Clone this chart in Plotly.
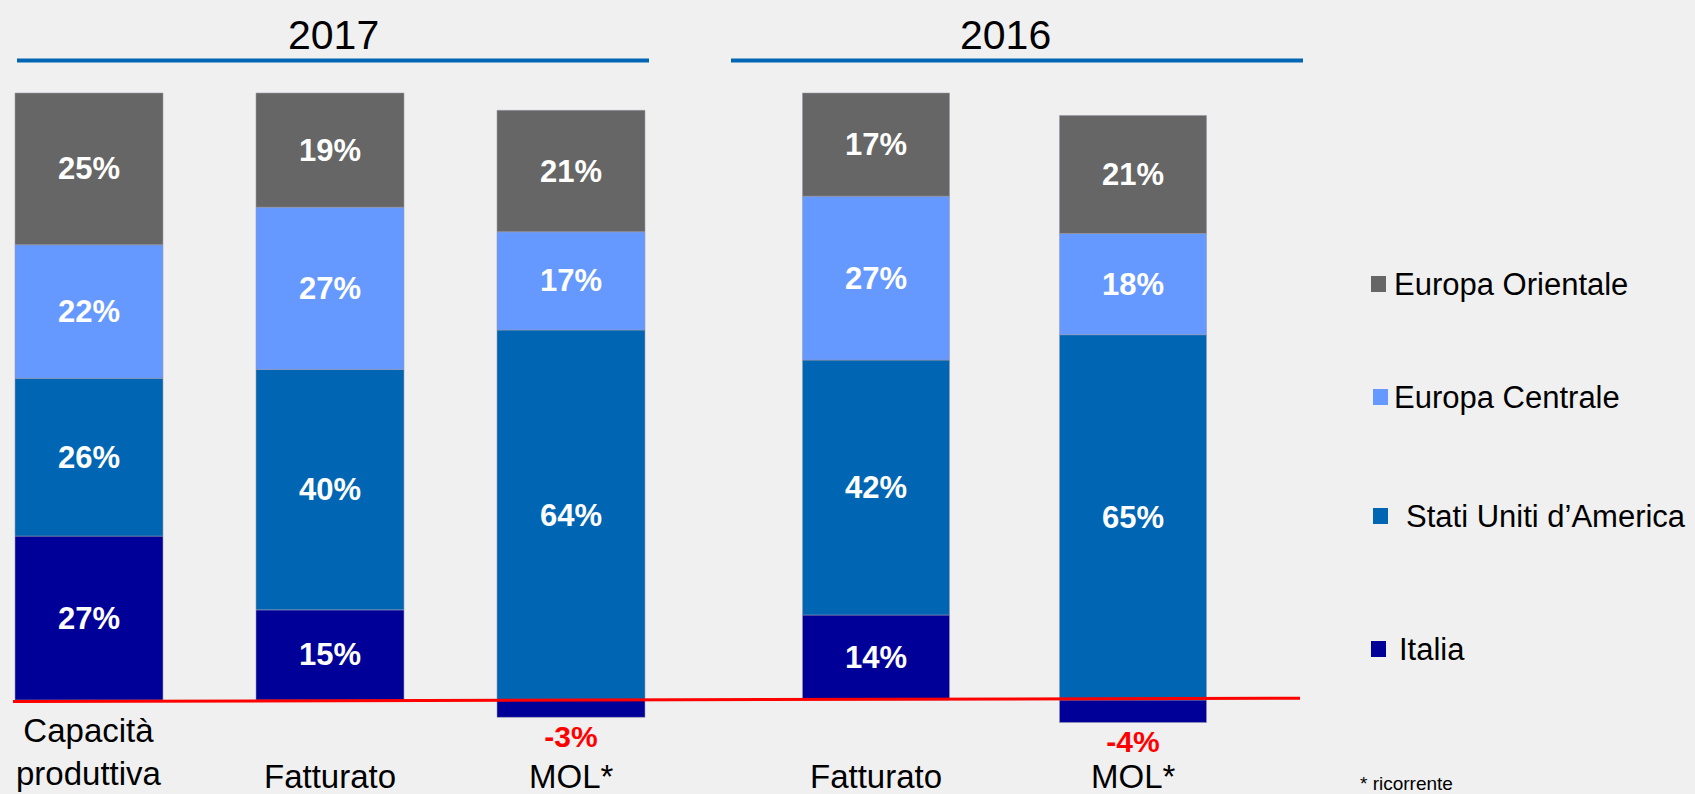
import plotly.graph_objects as go

W, H = 1695, 794

# ---------------- data ----------------
categories_2017 = ["Capacità produttiva", "Fatturato", "MOL*"]
categories_2016 = ["Fatturato", "MOL*"]
category_labels_2017 = ["Capacità<br>produttiva", "Fatturato", "MOL*"]
category_labels_2016 = ["Fatturato", "MOL*"]

italia_2017 = [27, 15, -3]
usa_2017 = [26, 40, 64]
centrale_2017 = [22, 27, 17]
orientale_2017 = [25, 19, 21]

italia_2016 = [14, -4]
usa_2016 = [42, 65]
centrale_2016 = [27, 18]
orientale_2016 = [17, 21]

series_names = ["Italia", "Stati Uniti d’America", "Europa Centrale", "Europa Orientale"]
series_colors = ["#000099", "#0066B3", "#6699FF", "#666666"]

group_titles = ["2017", "2016"]
footnote = "* ricorrente"

FONT = "Liberation Sans, Arial, Helvetica, sans-serif"


def px_x(p):
    return p / W


def px_y(p):
    return 1 - p / H


fig = go.Figure()


def add_group(cats, stack, xaxis, width):
    # 100% stacked column: each value is shown as a share of the column's absolute total
    totals = [sum(abs(s[k]) for s in stack) for k in range(len(cats))]
    for i, vals in enumerate(stack):
        shares = [v / t * 100 for v, t in zip(vals, totals)]
        fig.add_trace(go.Bar(
            x=cats, y=shares, width=width,
            xaxis=xaxis, yaxis="y",
            marker=dict(color=series_colors[i], line=dict(width=0.8, color="rgba(150,150,170,0.7)")),
            text=[f"{v}%" for v in vals],
            textposition=["inside" if v > 0 else "outside" for v in vals],
            insidetextanchor="middle",
            textangle=0,
            insidetextfont=dict(color="white", size=31, family=FONT, weight="bold"),
            outsidetextfont=dict(color="#FF0000", size=30, family=FONT, weight="bold"),
            cliponaxis=False,
            showlegend=False,
            hoverinfo="skip",
            name=series_names[i],
        ))


add_group(categories_2017, [italia_2017, usa_2017, centrale_2017, orientale_2017], "x", 0.614)
add_group(categories_2016, [italia_2016, usa_2016, centrale_2016, orientale_2016], "x2", 0.572)

annotations = []
shapes = []

# category labels
for cat, lab in zip(categories_2017, category_labels_2017):
    two = "<br>" in lab
    annotations.append(dict(x=cat, xref="x", y=px_y(752 if two else 776), yref="paper",
                            text=lab, showarrow=False, xanchor="center", yanchor="middle",
                            font=dict(size=33, color="black", family=FONT)))
for cat, lab in zip(categories_2016, category_labels_2016):
    annotations.append(dict(x=cat, xref="x2", y=px_y(776), yref="paper",
                            text=lab, showarrow=False, xanchor="center", yanchor="middle",
                            font=dict(size=33, color="black", family=FONT)))

# group titles and blue rules
title_pos = [(333, 17, 649), (1005, 731, 1303)]
for t, (cx, l, r) in zip(group_titles, title_pos):
    annotations.append(dict(x=px_x(cx), y=px_y(35), xref="paper", yref="paper", text=t,
                            showarrow=False, xanchor="center", yanchor="middle",
                            font=dict(size=41, color="black", family=FONT)))
    shapes.append(dict(type="line", xref="paper", yref="paper", x0=px_x(l), x1=px_x(r),
                       y0=px_y(60.5), y1=px_y(60.5), line=dict(color="#0066B3", width=4)))

# red zero line
shapes.append(dict(type="line", xref="paper", yref="y", x0=px_x(13), x1=px_x(1300),
                   y0=-0.25, y1=0.3, line=dict(color="#FF0000", width=3)))

# legend (top to bottom: Orientale, Centrale, USA, Italia)
legend_rows = [(3, 1371, 284, 1392), (2, 1373, 397, 1392), (1, 1373, 516, 1404), (0, 1371, 649, 1397)]
for idx, sx, cy, tx in legend_rows:
    shapes.append(dict(type="rect", xref="paper", yref="paper",
                       x0=px_x(sx), x1=px_x(sx + 15), y0=px_y(cy - 8), y1=px_y(cy + 8),
                       fillcolor=series_colors[idx], line=dict(width=0)))
    annotations.append(dict(x=px_x(tx), y=px_y(cy), xref="paper", yref="paper",
                            text=series_names[idx], showarrow=False, xanchor="left", yanchor="middle",
                            font=dict(size=31, color="black", family=FONT)))

annotations.append(dict(x=px_x(1358), y=px_y(783), xref="paper", yref="paper", text=footnote,
                        showarrow=False, xanchor="left", yanchor="middle",
                        font=dict(size=19, color="black", family=FONT)))

fig.update_layout(
    width=W, height=H,
    margin=dict(l=0, r=0, t=0, b=0),
    paper_bgcolor="#F0F0F0", plot_bgcolor="#F0F0F0",
    barmode="relative",
    xaxis=dict(domain=[0, 700 / W], type="category", range=[-89 / 241, (700 - 89) / 241],
               visible=False, anchor="y"),
    xaxis2=dict(domain=[700 / W, 1300 / W], type="category", range=[(700 - 876) / 257, (1300 - 876) / 257],
                visible=False, anchor="y"),
    yaxis=dict(domain=[0, 1], range=[-(H - 700) / 6.07, 700 / 6.07], visible=False),
    annotations=annotations,
    shapes=shapes,
    font=dict(family=FONT),
)

fig.write_html(
    "out.html",
    config={"displayModeBar": False},
    post_script="document.body.style.margin='0px';document.body.style.overflow='hidden';",
)
